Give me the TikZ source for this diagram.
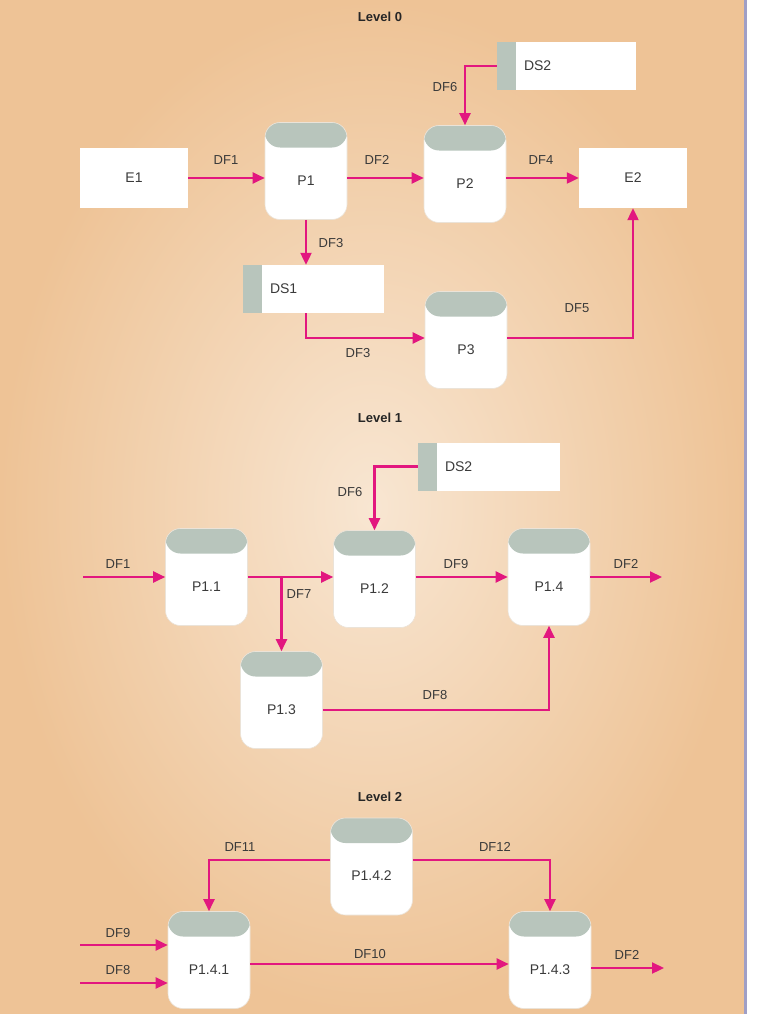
\documentclass[tikz,border=0pt]{standalone}
\usepackage{fontspec}
\setmainfont{Liberation Sans}
\usetikzlibrary{arrows.meta}
\definecolor{pk}{HTML}{E2177F}
\definecolor{bandc}{HTML}{B8C5BC}
\definecolor{txt}{HTML}{3A3A3A}
\definecolor{bgin}{HTML}{F8E6D2}
\definecolor{bgout}{HTML}{EEC396}
\newcommand{\pl}[1]{\raisebox{-14pt}[0pt][0pt]{#1}}
\begin{document}
\begin{tikzpicture}[x=1pt,y=-1pt,
  every node/.style={font=\fontsize{14}{16}\selectfont,text=txt},
  proc/.style={draw=bandc!50!brown!30,line width=0.6pt,fill=white,rounded corners=15pt,minimum width=82pt,minimum height=97pt,inner sep=0,
    path picture={\fill[bandc] (path picture bounding box.north west) rectangle ([yshift=-25pt]path picture bounding box.north east);}},
  ent/.style={fill=white,minimum width=108pt,minimum height=60pt,inner sep=0},
  ds/.style={fill=white,minimum width=#1,text width=#1,minimum height=48pt,inner xsep=0,align=left,
    path picture={\fill[bandc] (path picture bounding box.north west) rectangle ([xshift=19pt]path picture bounding box.south west);}},
  fl/.style={draw=pk,line width=2.2pt,-{Triangle[length=12pt,width=11pt]}},
  lb/.style={font=\fontsize{13}{15}\selectfont},
  ttl/.style={font=\bfseries\fontsize{13}{15}\selectfont,text=black!85}]
\useasboundingbox (0,0) rectangle (758,1014);
\shade[inner color=bgin,outer color=bgout] (0,0) rectangle (744,1014);
\fill[blue!25!gray!60] (744,0) rectangle (747,1014);
\fill[white] (747,0) rectangle (758,1014);
\node[ttl] (t0) at (380,17) {Level 0};
\node[ttl] (t1) at (380,418) {Level 1};
\node[ttl] (t2) at (380,797) {Level 2};
% Level 0
\node[ent] (e1) at (134,178) {E1};
\node[ent] (e2) at (633,178) {E2};
\node[proc] (p1) at (306,171) {\pl{P1}};
\node[proc] (p2) at (465,174) {\pl{P2}};
\node[proc] (p3) at (466,340) {\pl{P3}};
\node[ds=139pt] (ds2) at (566.5,66) {\hspace*{27pt}DS2};
\node[ds=141pt] (ds1) at (313.5,289) {\hspace*{27pt}DS1};
\draw[fl] (e1.east |- 0,178) -- (p1.west |- 0,178);
\draw[fl] (p1.east |- 0,178) -- (p2.west |- 0,178);
\draw[fl] (p2.east |- 0,178) -- (e2.west |- 0,178);
\draw[fl] (ds2.west) -| (p2.north);
\draw[fl] (p1.south) -- (p1.south |- ds1.north);
\coordinate (c3) at (306,338);
\draw[fl] (p1.south |- ds1.south) -- (c3) -- (p3.west |- c3);
\draw[fl] (p3.east |- c3) -| (e2.south);
\node[lb] (l1) at (226,160) {DF1};
\node[lb] (l2) at (377,160) {DF2};
\node[lb] (l4) at (541,160) {DF4};
\node[lb] (l6) at (445,87) {DF6};
\node[lb] (l3) at (331,243) {DF3};
\node[lb] (l3b) at (358,353) {DF3};
\node[lb] (l5) at (577,308) {DF5};
% Level 1
\node[proc] (p11) at (206.5,577) {\pl{P1.1}};
\node[proc] (p12) at (374.5,579) {\pl{P1.2}};
\node[proc] (p14) at (549,577) {\pl{P1.4}};
\node[proc] (p13) at (281.5,700) {\pl{P1.3}};
\node[ds=142pt] (ds2b) at (489,466.5) {\hspace*{27pt}DS2};
\coordinate (in1) at (83,577);
\coordinate (out1) at (662,577);
\coordinate (br) at (p13.north |- in1);
\draw[fl] (in1) -- (p11.west |- in1);
\draw[fl] (p11.east |- in1) -- (p12.west |- in1);
\draw[fl] (br) -- (p13.north);
\draw[fl] (ds2b.west) -| (p12.north);
\draw[fl] (p12.east |- in1) -- (p14.west |- in1);
\draw[fl] (p14.east |- in1) -- (out1);
\draw[fl] (p13.east |- 0,710) -| (p14.south);
\node[lb] at (118,564) {DF1};
\node[lb] at (299,594) {DF7};
\node[lb] at (350,492) {DF6};
\node[lb] at (456,564) {DF9};
\node[lb] at (626,564) {DF2};
\node[lb] at (435,695) {DF8};
% Level 2
\node[proc] (p142) at (371.5,866.5) {\pl{P1.4.2}};
\node[proc] (p141) at (209,960) {\pl{P1.4.1}};
\node[proc] (p143) at (550,960) {\pl{P1.4.3}};
\coordinate (i9) at (80,945);
\coordinate (i8) at (80,983);
\coordinate (o2) at (664,968);
\draw[fl] (p142.west |- 0,860) -| (p141.north);
\draw[fl] (p142.east |- 0,860) -| (p143.north);
\draw[fl] (i9) -- (p141.west |- i9);
\draw[fl] (i8) -- (p141.west |- i8);
\draw[fl] (p141.east |- 0,964) -- (p143.west |- 0,964);
\draw[fl] (p143.east |- o2) -- (o2);
\node[lb] at (240,847) {DF11};
\node[lb] at (495,847) {DF12};
\node[lb] at (118,933) {DF9};
\node[lb] at (118,970) {DF8};
\node[lb] at (370,954) {DF10};
\node[lb] at (627,955) {DF2};
\end{tikzpicture}
\end{document}
